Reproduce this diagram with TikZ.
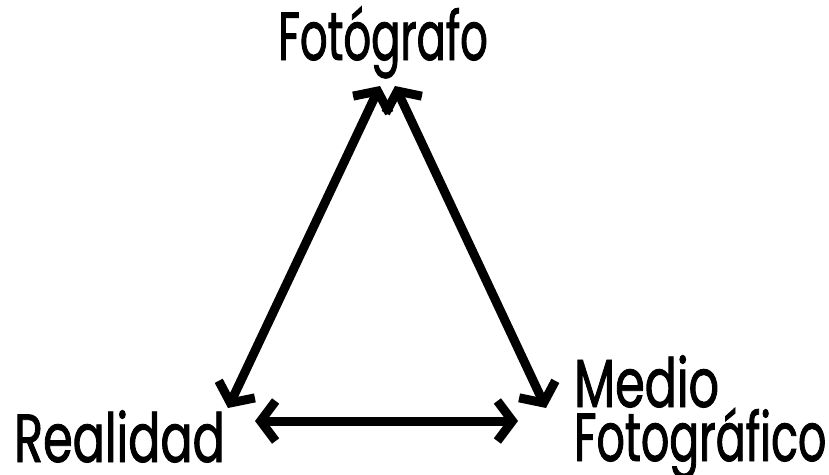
\documentclass[tikz,border=0pt]{standalone}
\usepackage{fontspec}
\setmainfont[FakeStretch=0.70,FakeBold=1.3]{Poppins}
\usetikzlibrary{arrows.meta}
\begin{document}
\begin{tikzpicture}[x=1pt,y=-1pt,
  lbl/.style={inner sep=0pt,font=\fontsize{68}{58}\selectfont},
  rel/.style={line width=9pt,{Straight Barb[length=15pt,width=40pt]}-{Straight Barb[length=15pt,width=40pt]}}]
\useasboundingbox (0,0) rectangle (829,474);
\node[lbl,anchor=base] (fot) at (383,60) {\scalebox{0.91}[1]{Fotógrafo}};
\node[lbl,anchor=base west,text depth=0pt] (rea) at (14,462) {Realidad};
\node[lbl,anchor=base west,text depth=0pt] (med) at (574,407) {Medio};
\node[lbl,anchor=base west] (medf) at (574,461) {\scalebox{0.93}[1]{Fotográfico}};
\coordinate (fotL) at (380,86);
\coordinate (fotR) at (395,86);
\coordinate (reaT) at (228,408);
\coordinate (reaR) at (255,421);
\coordinate (medT) at (546,408);
\coordinate (medL) at (518,421);
\draw[rel] (fotL) -- (reaT);
\draw[rel] (fotR) -- (medT);
\draw[rel] (reaR) -- (medL);
\end{tikzpicture}
\end{document}
